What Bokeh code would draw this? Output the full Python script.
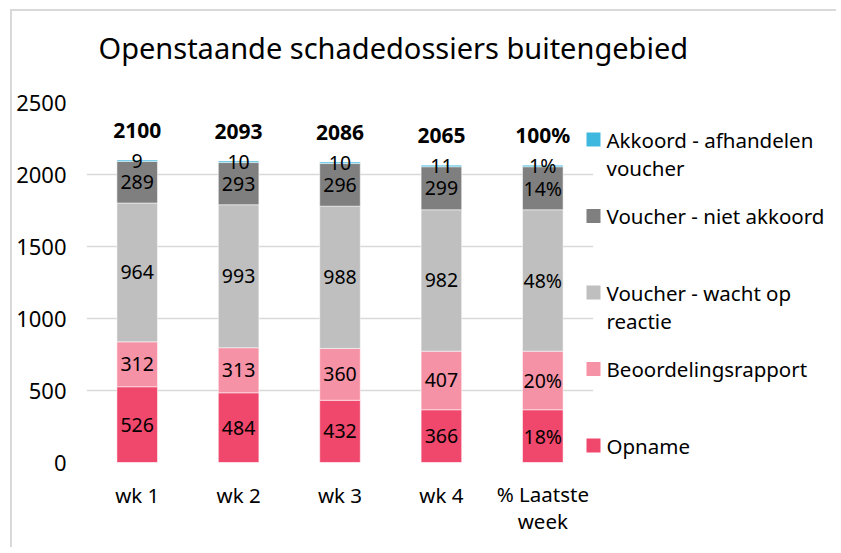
from bokeh.plotting import figure
from bokeh.models import ColumnDataSource, FactorRange, SingleIntervalTicker
from bokeh.core.properties import value
from bokeh.embed import file_html
from bokeh.resources import INLINE

# ---------------- data ----------------
title_text = "Openstaande schadedossiers buitengebied"
categories = ["wk 1", "wk 2", "wk 3", "wk 4", "% Laatste week"]
category_labels = ["wk 1", "wk 2", "wk 3", "wk 4", "% Laatste\nweek"]
series_names = ["Opname", "Beoordelingsrapport", "Voucher - wacht op reactie",
                "Voucher - niet akkoord", "Akkoord - afhandelen voucher"]
opname = [526, 484, 432, 366, 366]
beoordelingsrapport = [312, 313, 360, 407, 407]
voucher_wacht = [964, 993, 988, 982, 982]
voucher_niet_akkoord = [289, 293, 296, 299, 299]
akkoord_afhandelen = [9, 10, 10, 11, 11]
last_week_pct = [18, 20, 48, 14, 1]          # % labels of the last bar, per series
total_labels = ["2100", "2093", "2086", "2065", "100%"]
legend_labels = ["Akkoord - afhandelen\nvoucher", "Voucher - niet akkoord",
                 "Voucher - wacht op\nreactie", "Beoordelingsrapport", "Opname"]
colors = ["#F0476C", "#F692A6", "#BFBFBF", "#7F7F7F", "#3EB8DE"]

FONT = "Noto Sans"
series = [opname, beoordelingsrapport, voucher_wacht, voucher_niet_akkoord, akkoord_afhandelen]
keys = ["s0", "s1", "s2", "s3", "s4"]

# ---------------- layout (pixels) ----------------
LEFT, RIGHT, TOP, BOTTOM = 86, 243, 102, 85
frame_w, frame_h = 507, 360
W = LEFT + frame_w + RIGHT
H = TOP + frame_h + BOTTOM
YMAX = 2500
px_per_unit = frame_h / YMAX
px_per_cat = frame_w / len(categories)

p = figure(x_range=FactorRange(*categories), y_range=(0, YMAX),
           width=W, height=H, output_backend="svg", toolbar_location=None,
           min_border_left=LEFT, min_border_right=RIGHT,
           min_border_top=TOP, min_border_bottom=BOTTOM)
p.border_fill_color = None
p.background_fill_color = "white"
p.outline_line_color = None
p.styles = {"box-shadow": "inset 10px 9px 0 0 #ffffff, inset 12px 11px 0 0 #d9d9d9"}

# title, drawn above the frame (55 px above its top, 12 px in from its left)
p.text(x=[12 / px_per_cat], y=[YMAX + 55 / px_per_unit], text=[title_text],
       text_align="left", text_baseline="middle", text_font=value(FONT),
       text_font_size="29px", text_color="black", level="overlay")

# stacked bars
data = {"cat": categories}
for k, s in zip(keys, series):
    data[k] = s
src = ColumnDataSource(data)
p.vbar_stack(keys, x="cat", width=0.4, source=src, color=colors,
             line_color="white", line_alpha=0.5, line_width=1)

# segment labels
lx, ly, lt = [], [], []
for i, cat in enumerate(categories):
    base = 0
    for j, s in enumerate(series):
        v = s[i]
        lx.append(cat)
        ly.append(base + v / 2)
        lt.append(f"{last_week_pct[j]}%" if i == len(categories) - 1 else str(v))
        base += v
p.text(x=lx, y=ly, text=lt, text_align="center", text_baseline="middle",
       text_font=value(FONT), text_font_size="19.5px", text_color="black")

# totals
tot_y = [sum(s[i] for s in series) for i in range(len(categories))]
p.text(x=categories, y=tot_y, text=total_labels, text_align="center",
       text_baseline="middle", y_offset=-30, text_font=value(FONT),
       text_font_size="21px", text_font_style="bold", text_color="black")

# category labels (multi-line capable), drawn under the frame
cat_line_h = 26
cat_offs = [32 + lab.count("\n") * cat_line_h / 2 for lab in category_labels]
p.text(x=categories, y=[0] * len(categories), text=category_labels,
       y_offset=cat_offs, text_align="center", text_baseline="middle",
       text_font=value(FONT), text_font_size="20.5px", text_color="black",
       text_line_height=0.95, level="overlay")

# legend (manual, outside frame, Excel-like evenly spaced entries)
n = len(legend_labels)
first_line_px = [323 - 76.5 * k for k in range(n)]     # px above frame bottom
leg_y = [v / px_per_unit for v in first_line_px]
leg_colors = colors[::-1]
sq_x = len(categories) + 0.0
txt_x = len(categories) + 13 / px_per_cat
line_h = 28
offs = [(lab.count("\n")) * line_h / 2 for lab in legend_labels]
p.scatter(x=[sq_x] * n, y=leg_y, marker="square", size=14, color=leg_colors,
          line_color=None, level="overlay")
p.text(x=[txt_x] * n, y=leg_y, text=legend_labels, y_offset=offs,
       text_align="left", text_baseline="middle", text_font=value(FONT),
       text_font_size="20.5px", text_color="black",
       text_line_height=1.0, level="overlay")

# axes & grid
p.yaxis.ticker = SingleIntervalTicker(interval=500)
p.yaxis.axis_line_color = None
p.yaxis.major_tick_line_color = None
p.yaxis.minor_tick_line_color = None
p.yaxis.major_label_text_font = FONT
p.yaxis.major_label_text_font_size = "22px"
p.yaxis.major_label_text_color = "black"
p.yaxis.major_label_standoff = 14

p.xaxis.visible = False
p.xgrid.grid_line_color = None
p.ygrid.grid_line_color = "#D9D9D9"
p.ygrid.grid_line_width = 1.5
p.ygrid.level = "underlay"

open("out.html", "w").write(file_html(p, INLINE))
